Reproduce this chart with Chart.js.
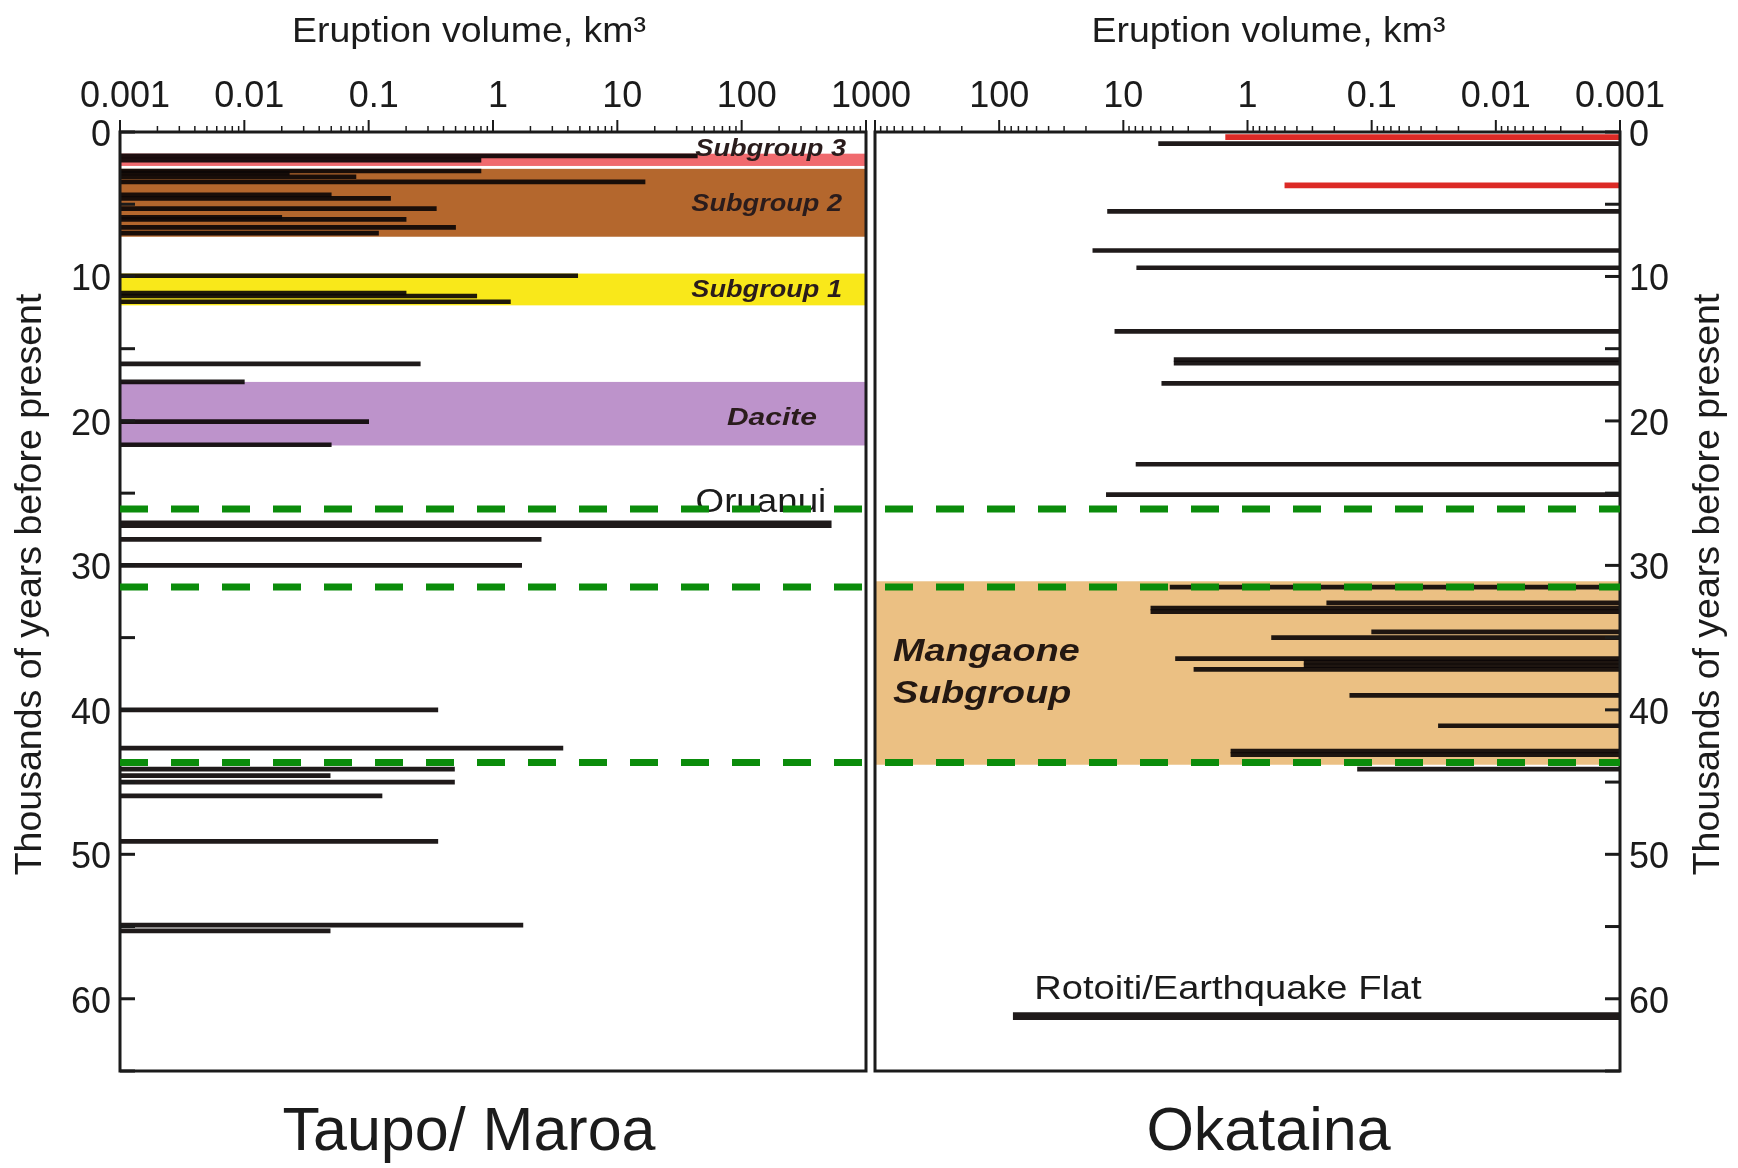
<!DOCTYPE html>
<html>
<head>
<meta charset="utf-8">
<script src="https://cdn.jsdelivr.net/npm/chart.js"></script>
<style>
  html, body { margin: 0; padding: 0; background: #ffffff; }
  #wrap { position: relative; width: 1738px; height: 1168px; }
  #wrap canvas { position: absolute; left: 0; top: 0; }
  #okataina { z-index: 1; }
  #taupo { z-index: 2; }
</style>
</head>
<body>
<div id="wrap">
  <canvas id="okataina" width="1738" height="1168"></canvas>
  <canvas id="taupo" width="1738" height="1168"></canvas>
</div>
<script>
// ---- Axis ticks -------------------------------------------------------
const volumeDecades = [0.001, 0.01, 0.1, 1, 10, 100, 1000];
const volumeLabels = ['0.001', '0.01', '0.1', '1', '10', '100', '1000'];
const ageLabels = [0, 10, 20, 30, 40, 50, 60];

// ---- Taupo / Maroa eruptions (age in ka, volume in km³) ----------------
const taupoAges = [1.65, 1.95, 2.7, 2.85, 3.1, 3.45, 4.35, 4.6, 5.3, 5.9, 6.05, 6.6, 7.0,
                   9.95, 11.15, 11.35, 11.75, 16.05, 17.3, 20.05, 21.65, 28.2, 30.0,
                   40.0, 42.65, 44.1, 44.55, 45.0, 45.95, 49.1, 54.9, 55.3];
const taupoVolumes = [44, 0.8, 0.8, 0.023, 0.079, 16.7, 0.05, 0.15, 0.35, 0.02, 0.2, 0.5, 0.12,
                      4.8, 0.2, 0.74, 1.38, 0.26, 0.01, 0.1, 0.05, 2.44, 1.7,
                      0.36, 3.65, 0.49, 0.049, 0.49, 0.128, 0.36, 1.74, 0.049];
const oruanuiAge = [27.15];
const oruanuiVolume = [525];

// ---- Okataina eruptions ----------------------------------------------
const okatainaAges = [0.8, 5.5, 8.2, 9.4, 13.8, 15.75, 16.0, 17.4, 23.0, 25.1,
                      31.5, 32.6, 32.95, 33.2, 34.6, 35.0, 36.45, 36.7, 36.95, 37.2,
                      39.0, 41.1, 42.85, 43.1, 44.1];
const okatainaVolumes = [5.2, 13.4, 17.6, 7.8, 11.7, 3.9, 3.9, 4.9, 7.9, 13.7,
                         4.2, 0.23, 6.0, 6.0, 0.1, 0.64, 3.8, 0.35, 0.35, 2.7,
                         0.15, 0.029, 1.36, 1.36, 0.13];
const basaltAges = [0.35, 3.7];
const basaltVolumes = [1.5, 0.5];
const rotoitiAge = [61.2];
const rotoitiVolume = [77];

// ---- Eruptive groupings (age ranges, ka) ------------------------------
const taupoUnits = ['Subgroup 3', 'Subgroup 2', 'Subgroup 1', 'Dacite'];
const taupoUnitFrom = [1.5, 2.55, 9.8, 17.3];
const taupoUnitTo = [2.35, 7.25, 12.0, 21.7];
const okatainaUnits = ['Mangaone Subgroup'];
const okatainaUnitFrom = [31.1];
const okatainaUnitTo = [43.8];

// Correlation horizons drawn across both centres
const boundaryAges = [26.1, 31.5, 43.65];

// ---- Styling ------------------------------------------------------------
const FONT = "'Liberation Sans', Arial, Helvetica, sans-serif";
const INK = '#1b1b1b';
const BAR = 'rgba(12, 6, 6, 0.92)';
const unitColours = {
  'Subgroup 3': '#f06a6e',
  'Subgroup 2': '#b4672d',
  'Subgroup 1': '#f9e81a',
  'Dacite': '#bd93cb',
  'Mangaone Subgroup': '#ebc083'
};
// label placement inside each band: inset from the right edge, vertical nudge, size, stretch
const unitLabelStyle = {
  'Subgroup 3': { inset: 20, dy: -4, size: 24, stretch: 1.13 },
  'Subgroup 2': { inset: 24, dy: 2, size: 24, stretch: 1.13 },
  'Subgroup 1': { inset: 24, dy: 1, size: 24, stretch: 1.13 },
  'Dacite': { inset: 49, dy: 5, size: 24, stretch: 1.25 }
};

function drawText(ctx, text, x, y, o) {
  const size = o.size || 36, weight = o.weight || 'normal', style = o.style || 'normal';
  ctx.save();
  ctx.translate(x, y);
  if (o.rotate) ctx.rotate(o.rotate);
  ctx.scale(o.stretch || 1, 1);
  ctx.font = `${style} ${weight} ${size}px ${FONT}`;
  ctx.fillStyle = o.color || INK;
  ctx.textAlign = o.align || 'center';
  ctx.textBaseline = o.baseline || 'middle';
  ctx.fillText(text, 0, 0);
  ctx.restore();
}

const toBars = (ages, vols) => ages.map((a, i) => ({ y: a, x: [volumeDecades[0], vols[i]] }));

// ---- Scales ------------------------------------------------------------
function volumeAxis(reverse, skipLabel, shift) {
  return {
    type: 'logarithmic',
    position: 'top',
    min: volumeDecades[0],
    max: volumeDecades[volumeDecades.length - 1],
    reverse: reverse,
    stacked: false,
    grid: { display: false, drawTicks: false },
    border: { display: false },
    afterBuildTicks(axis) {
      const ticks = [];
      volumeDecades.forEach((d, i) => {
        ticks.push({ value: d, major: true });
        if (i < volumeDecades.length - 1) {
          for (let m = 2; m <= 9; m++) ticks.push({ value: d * m, major: false });
        }
      });
      axis.ticks = ticks;
    },
    afterFit(axis) {
      axis.height = 132;
      axis.paddingLeft = 0;
      axis.paddingRight = 0;
    },
    ticks: {
      autoSkip: false, maxRotation: 0, minRotation: 0, padding: 13, labelOffset: shift,
      color: INK, font: { family: FONT, size: 36 },
      callback(value) {
        const i = volumeDecades.indexOf(value);
        if (i < 0 || volumeLabels[i] === skipLabel) return '';
        return volumeLabels[i];
      }
    }
  };
}

function ageAxis(position, width) {
  return {
    type: 'linear',
    position: position,
    min: 0, max: 65,
    reverse: true,
    offset: false,
    grid: { display: false, drawTicks: false, offset: false },
    border: { display: false },
    afterFit(axis) { axis.width = width; axis.paddingTop = 0; axis.paddingBottom = 0; },
    ticks: {
      stepSize: 5, autoSkip: false, padding: 9, labelOffset: 4,
      color: INK, font: { family: FONT, size: 36 },
      callback(value) { return ageLabels.includes(value) ? String(value) : ''; }
    }
  };
}

// ---- Plugins -------------------------------------------------------------
const unitBands = {
  id: 'unitBands',
  beforeDatasetsDraw(chart, args, opts) {
    const { ctx, chartArea: a, scales: { y } } = chart;
    ctx.save();
    opts.names.forEach((name, i) => {
      const top = y.getPixelForValue(opts.from[i]);
      const bottom = y.getPixelForValue(opts.to[i]);
      ctx.fillStyle = unitColours[name];
      ctx.fillRect(a.left, top, a.right - a.left, bottom - top);
    });
    ctx.restore();
  },
  afterDatasetsDraw(chart, args, opts) {
    const { ctx, chartArea: a, scales: { y } } = chart;
    opts.names.forEach((name, i) => {
      const mid = y.getPixelForValue((opts.from[i] + opts.to[i]) / 2);
      if (name === 'Mangaone Subgroup') {
        const words = name.split(' ');
        drawText(ctx, words[0], a.left + 18, mid - 21, { size: 32, weight: 'bold', style: 'italic', align: 'left', stretch: 1.18, color: '#241812' });
        drawText(ctx, words[1], a.left + 18, mid + 21, { size: 32, weight: 'bold', style: 'italic', align: 'left', stretch: 1.18, color: '#241812' });
        return;
      }
      const s = unitLabelStyle[name];
      const yy = name === 'Subgroup 3' ? y.getPixelForValue(opts.from[i]) + s.dy : mid + s.dy;
      drawText(ctx, name, a.right - s.inset, yy, { size: s.size, weight: 'bold', style: 'italic', align: 'right', stretch: s.stretch, color: '#2a1c1c' });
    });
  }
};

const panelFrame = {
  id: 'panelFrame',
  afterDatasetsDraw(chart, args, opts) {
    const { ctx, chartArea: a, scales: { x, y } } = chart;
    ctx.save();
    ctx.strokeStyle = INK;
    x.ticks.forEach(t => {
      const px = x.getPixelForValue(t.value);
      ctx.lineWidth = t.major ? 2 : 1.5;
      ctx.beginPath();
      ctx.moveTo(px, a.top);
      ctx.lineTo(px, a.top - (t.major ? 12 : 6));
      ctx.stroke();
    });
    y.ticks.forEach(t => {
      const py = y.getPixelForValue(t.value);
      ctx.lineWidth = 3;
      ctx.beginPath();
      if (opts.side === 'left') { ctx.moveTo(a.left, py); ctx.lineTo(a.left + 15, py); }
      else { ctx.moveTo(a.right, py); ctx.lineTo(a.right - 15, py); }
      ctx.stroke();
    });
    ctx.lineWidth = 3;
    ctx.strokeRect(a.left, a.top, a.right - a.left, a.bottom - a.top);
    ctx.restore();
  }
};

const eventNotes = {
  id: 'eventNotes',
  afterDatasetsDraw(chart, args, opts) {
    const { ctx } = chart;
    opts.notes.forEach(n => {
      const el = chart.getDatasetMeta(n.dataset).data[0];
      drawText(ctx, n.text, el.x + n.dx, el.y + n.dy, { size: n.size, align: n.align, stretch: n.stretch });
    });
  }
};

const panelTitles = {
  id: 'panelTitles',
  afterDraw(chart, args, opts) {
    const { ctx, chartArea: a } = chart;
    const cx = (a.left + a.right) / 2 + opts.shift;
    drawText(ctx, 'Eruption volume, km\u00b3', cx, 32, { size: 35, stretch: 1.07 });
    drawText(ctx, opts.name, cx, a.bottom + 62, { size: 61 });
    const tx = opts.side === 'left' ? a.left - 89 : a.right + 89;
    drawText(ctx, 'Thousands of years before present', tx, (a.top + a.bottom) / 2 - 17,
             { size: 37.5, rotate: -Math.PI / 2 });
  }
};

const horizons = {
  id: 'horizons',
  afterDraw(chart, args, opts) {
    const { ctx, chartArea: a, scales: { y } } = chart;
    const right = opts.rightEdge();
    ctx.save();
    ctx.strokeStyle = '#0b8c0b';
    ctx.lineWidth = 7;
    ctx.setLineDash([28, 23]);
    boundaryAges.forEach(age => {
      const py = y.getPixelForValue(age);
      ctx.beginPath();
      ctx.moveTo(a.left, py);
      ctx.lineTo(right, py);
      ctx.stroke();
    });
    ctx.restore();
  }
};

const common = {
  indexAxis: 'y',
  responsive: false,
  animation: false,
  events: []
};

// ---- Okataina (right panel) --------------------------------------------
const okatainaChart = new Chart(document.getElementById('okataina'), {
  type: 'bar',
  data: {
    datasets: [
      { label: 'Okataina eruptions', data: toBars(okatainaAges, okatainaVolumes), backgroundColor: BAR, barThickness: 4, stack: 'events' },
      { label: 'Basaltic eruptions', data: toBars(basaltAges, basaltVolumes), backgroundColor: '#dc2a26', barThickness: 5, stack: 'events' },
      { label: 'Rotoiti/Earthquake Flat', data: toBars(rotoitiAge, rotoitiVolume), backgroundColor: BAR, barThickness: 7, stack: 'events' }
    ]
  },
  options: Object.assign({}, common, {
    layout: { padding: { left: 875, right: 0, top: 0, bottom: 97 } },
    scales: { x: volumeAxis(true, '1000', 0), y: ageAxis('right', 118) },
    plugins: {
      legend: { display: false }, tooltip: { enabled: false },
      unitBands: { names: okatainaUnits, from: okatainaUnitFrom, to: okatainaUnitTo },
      panelFrame: { side: 'right' },
      eventNotes: { notes: [ { dataset: 2, text: 'Rotoiti/Earthquake Flat', dx: 21, dy: -26, size: 34, align: 'left', stretch: 1.12 } ] },
      panelTitles: { name: 'Okataina', shift: 21, side: 'right' }
    }
  }),
  plugins: [unitBands, panelFrame, eventNotes, panelTitles]
});

// ---- Taupo / Maroa (left panel) -----------------------------------------
const taupoChart = new Chart(document.getElementById('taupo'), {
  type: 'bar',
  data: {
    datasets: [
      { label: 'Taupo/Maroa eruptions', data: toBars(taupoAges, taupoVolumes), backgroundColor: BAR, barThickness: 4, stack: 'events' },
      { label: 'Oruanui', data: toBars(oruanuiAge, oruanuiVolume), backgroundColor: BAR, barThickness: 7, stack: 'events' }
    ]
  },
  options: Object.assign({}, common, {
    layout: { padding: { left: 0, right: 872, top: 0, bottom: 97 } },
    scales: { x: volumeAxis(false, null, 5), y: ageAxis('left', 120) },
    plugins: {
      legend: { display: false }, tooltip: { enabled: false },
      unitBands: { names: taupoUnits, from: taupoUnitFrom, to: taupoUnitTo },
      panelFrame: { side: 'left' },
      eventNotes: { notes: [ { dataset: 1, text: 'Oruanui', dx: -5, dy: -22, size: 34, align: 'right', stretch: 1.08 } ] },
      panelTitles: { name: 'Taupo/ Maroa', shift: -24, side: 'left' },
      horizons: { rightEdge: () => okatainaChart.chartArea.right }
    }
  }),
  plugins: [unitBands, panelFrame, eventNotes, panelTitles, horizons]
});
</script>
</body>
</html>
